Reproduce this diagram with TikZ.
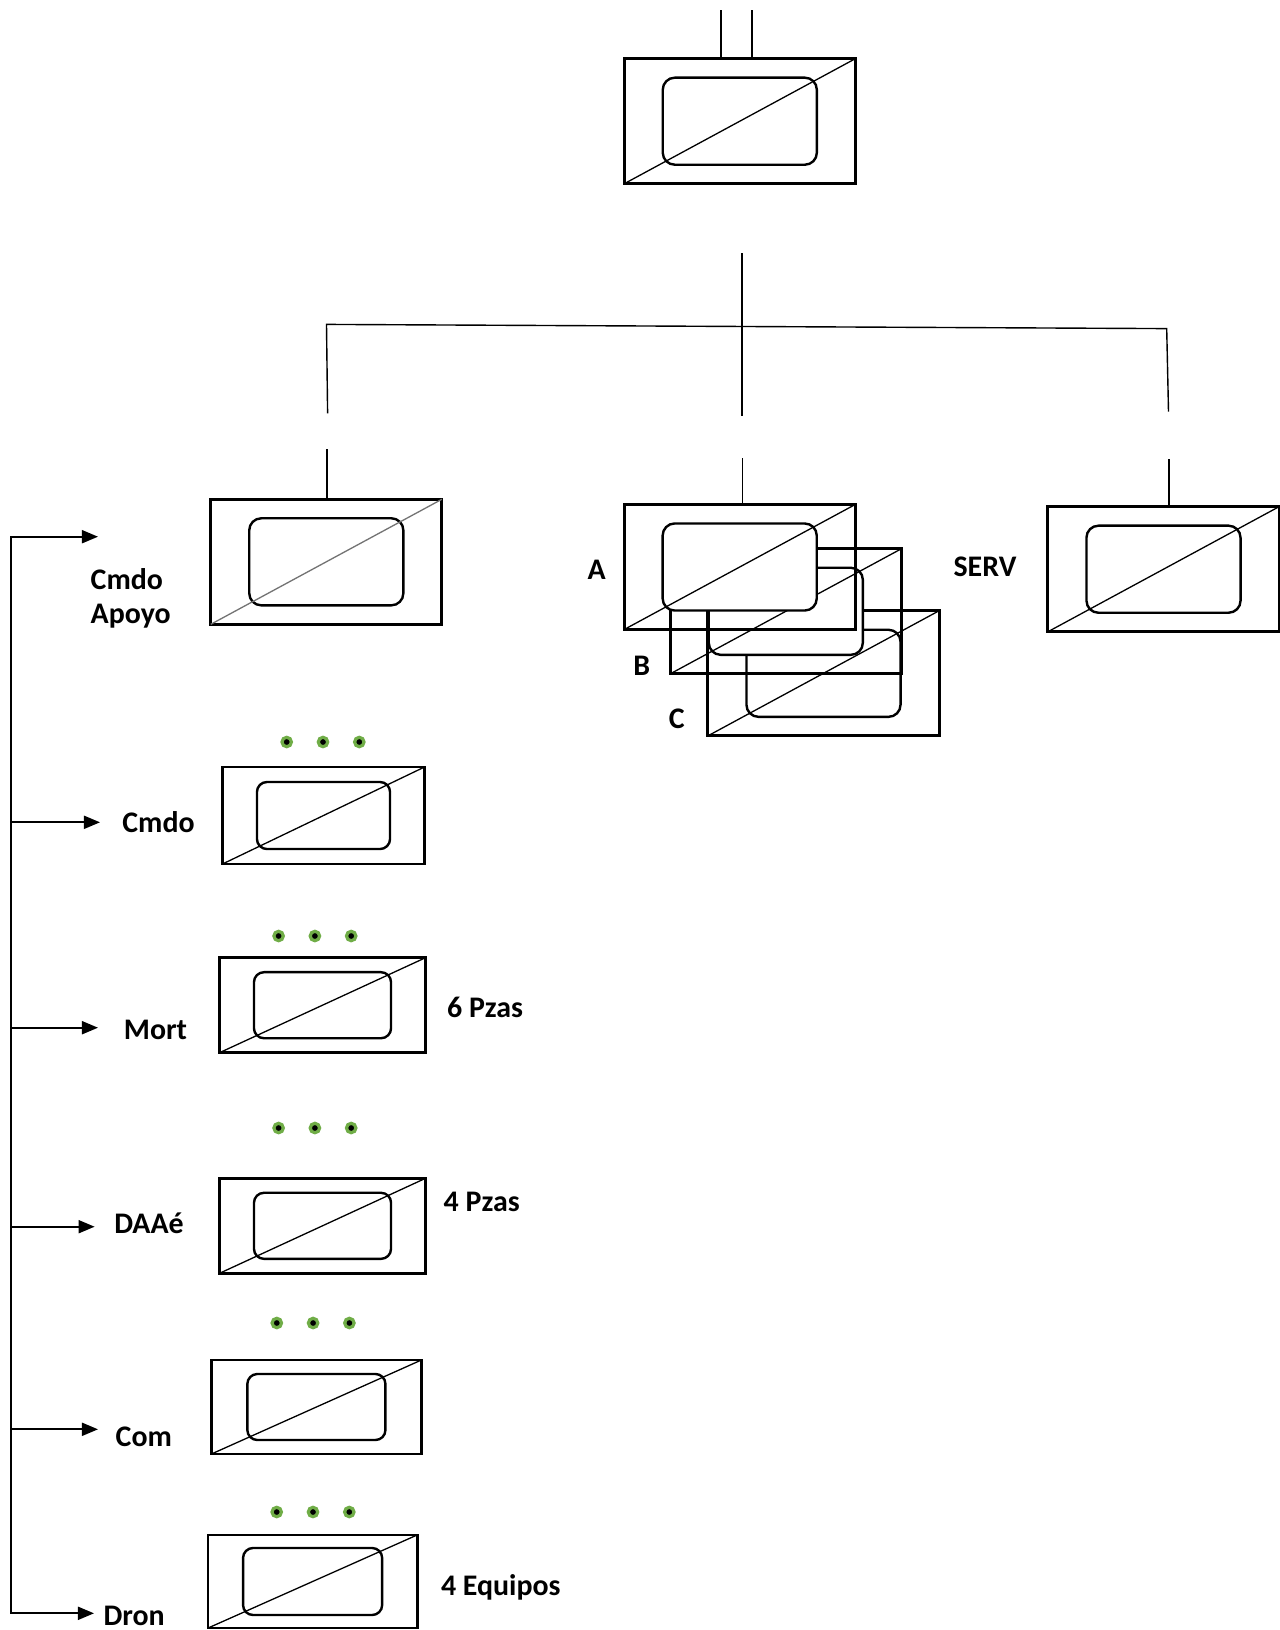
\documentclass[tikz,border=0pt]{standalone}
\usepackage{fontspec}
\setmainfont{Carlito}
\usetikzlibrary{arrows.meta}
\definecolor{verde}{HTML}{70AD47}

\begin{document}
\begin{tikzpicture}[x=0.01cm, y=-0.01cm, >={Triangle[length=0.16cm, width=0.13cm]},
		caja/.style={draw, rectangle, line width=0.03cm, inner sep=0pt, outer sep=0pt, minimum width=2.31cm, minimum height=1.25cm},
		interior/.style={draw, fill=white, rectangle, rounded corners=0.12cm, line width=0.024cm, inner sep=0pt, outer sep=0pt, minimum width=1.54cm, minimum height=0.87cm},
		cajita/.style={caja, line width=0.027cm, minimum width=2.06cm, minimum height=0.95cm},
		interiorito/.style={interior, rounded corners=0.1cm, minimum width=1.37cm, minimum height=0.66cm},
		diag/.style={line width=0.013cm},
		linea/.style={line width=0.014cm},
		flecha/.style={line width=0.018cm, ->},
		rotulo/.style={font=\fontsize{8.5}{9.7}\selectfont\bfseries, inner sep=0pt},
		punto/.style={fill=black, draw=verde, line width=0.032cm}]
		\useasboundingbox (0,0) rectangle (1280,1630);

		\node (sup) [caja] at (739.8,121.2) {};
		\node (sup-i) [interior] at (sup) {};
		\draw[diag] (sup.south west) -- (sup.north east);

		\node (apoyo) [caja] at (326.3,561.8) {};
		\node (apoyo-i) [interior] at (apoyo) {};
		\draw[diag, black!55] (apoyo.south west) -- (apoyo.north east);

		\node (c) [caja] at (823.5,673.3) {};
		\node (c-i) [interior] at (c) {};
		\draw[diag] (c.south west) -- (c.north east);
		\node (b) [caja] at (785.8,611.3) {};
		\node (b-i) [interior] at (b) {};
		\draw[diag] (b.south west) -- (b.north east);
		\node (a) [caja] at (739.7,567) {};
		\node (a-i) [interior] at (a) {};
		\draw[diag] (a.south west) -- (a.north east);

		\node (serv) [caja] at (1163.5,569.2) {};
		\node (serv-i) [interior] at (serv) {};
		\draw[diag] (serv.south west) -- (serv.north east);

		\node (cmdo) [cajita, minimum width=2.02cm, minimum height=0.97cm] at (323.5,815.5) {};
		\node (cmdo-i) [interiorito, minimum width=1.33cm, minimum height=0.67cm] at (cmdo) {};
		\draw[diag] (cmdo.south west) -- (cmdo.north east);
		\node (mort) [cajita] at (322.5,1005.2) {};
		\node (mort-i) [interiorito] at (mort) {};
		\draw[diag] (mort.south west) -- (mort.north east);
		\node (daae) [cajita] at (322.5,1225.8) {};
		\node (daae-i) [interiorito] at (daae) {};
		\draw[diag] (daae.south west) -- (daae.north east);
		\node (com) [cajita, minimum width=2.1cm, minimum height=0.94cm] at (316.4,1407) {};
		\node (com-i) [interiorito, minimum width=1.38cm] at (com) {};
		\draw[diag] (com.south west) -- (com.north east);
		\node (dron) [cajita, minimum width=2.09cm, minimum height=0.93cm] at (312.6,1581.5) {};
		\node (dron-i) [interiorito, minimum width=1.39cm, minimum height=0.67cm] at (dron) {};
		\draw[diag] (dron.south west) -- (dron.north east);

		\foreach \y/\x in {742/286.7, 936/278.6, 1128/278.6, 1323/276.8, 1512/276.7}
			\foreach \i in {0,1,2}
				\filldraw[punto] (\x+36.3*\i,\y) circle (0.047cm);

		\node (l-apoyo) [rotulo, anchor=west, align=left] at (90,598) {Cmdo\\Apoyo};
		\node (l-a) [rotulo, anchor=base] at (596.7,579.3) {A};
		\node (l-b) [rotulo, anchor=base] at (641.7,675) {B};
		\node (l-c) [rotulo, anchor=base] at (676.7,728.3) {C};
		\node (l-serv) [rotulo, anchor=base] at (985,576.7) {SERV};
		\node (l-cmdo) [rotulo, anchor=base west] at (121.7,832.5) {Cmdo};
		\node (l-mort) [rotulo, anchor=base west] at (123.2,1039.5) {Mort};
		\node (l-daae) [rotulo, anchor=base west] at (113.6,1233.3) {DAAé};
		\node (l-com) [rotulo, anchor=base west] at (115,1446.7) {Com};
		\node (l-dron) [rotulo, anchor=base west] at (102.8,1625) {Dron};
		\node (n-mort) [rotulo, anchor=base west] at (446.4,1017) {6 Pzas};
		\node (n-daae) [rotulo, anchor=base west] at (443,1211) {4 Pzas};
		\node (n-dron) [rotulo, anchor=base west] at (440.3,1595) {4 Equipos};

		\coordinate (t1) at (721,10);
		\coordinate (t2) at (752,10);
		\draw[linea] (t1) -- (t1 |- sup.north);
		\draw[linea] (t2) -- (t2 |- sup.north);

		\coordinate (c1) at (742,253);
		\coordinate (c2) at (742,416);
		\coordinate (h1) at (326.5,324.4);
		\coordinate (h2) at (1166.7,328.6);
		\coordinate (v1) at (327.6,413.3);
		\coordinate (v2) at (1168.5,411.7);
		\draw[linea] (c1) -- (c2);
		\draw[linea] (v1) -- (h1) -- (h2) -- (v2);

		\coordinate (r1) at (327,449);
		\coordinate (r2) at (742.7,458);
		\coordinate (r3) at (1169,459);
		\draw[linea] (r1) -- (r1 |- apoyo.north);
		\draw[linea] (r2) -- (r2 |- a.north);
		\draw[linea] (r3) -- (r3 |- serv.north);

		\coordinate (e-sup) at (11,536.7);
		\coordinate (e-inf) at (11,1613.3);
		\coordinate (p-apoyo) at (98,536.7);
		\coordinate (p-cmdo) at (100,822.3);
		\coordinate (p-mort) at (98,1027.7);
		\coordinate (p-daae) at (94.6,1226.7);
		\coordinate (p-com) at (98,1429.3);
		\coordinate (p-dron) at (94,1613.3);
		\draw[flecha, <->] (p-apoyo) -- (e-sup) -- (e-inf) -- (p-dron);
		\draw[flecha] (e-sup |- p-cmdo) -- (p-cmdo);
		\draw[flecha] (e-sup |- p-mort) -- (p-mort);
		\draw[flecha] (e-sup |- p-daae) -- (p-daae);
		\draw[flecha] (e-sup |- p-com) -- (p-com);
	\end{tikzpicture}
\end{document}
